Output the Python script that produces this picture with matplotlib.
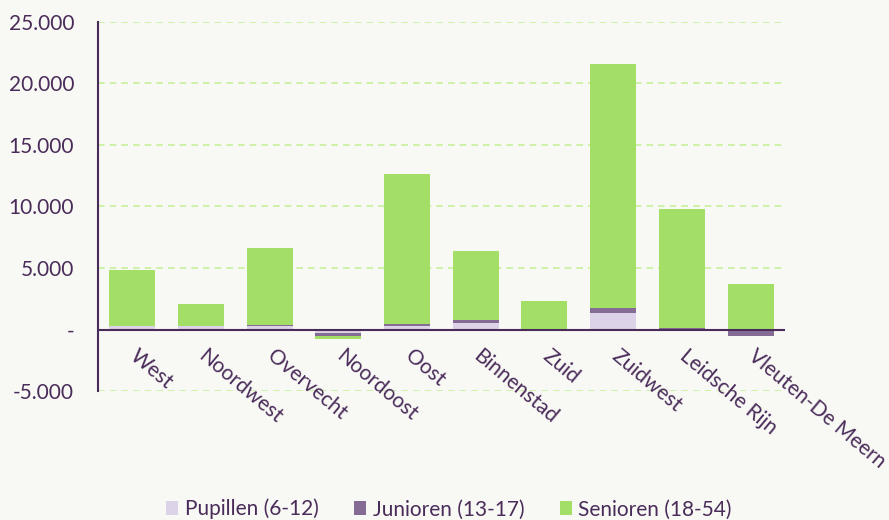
import matplotlib.pyplot as plt
from matplotlib.ticker import FuncFormatter
from matplotlib.transforms import offset_copy
import numpy as np

plt.rcParams['font.family'] = ['Lato', 'DejaVu Sans']

wijken = ["West", "Noordwest", "Overvecht", "Noordoost", "Oost", "Binnenstad",
          "Zuid", "Zuidwest", "Leidsche Rijn", "Vleuten-De Meern"]
pupillen = [300, 300, 250, -300, 300, 550, 0, 1330, 0, -150]
junioren = [0, 0, 80, -200, 150, 250, 0, 380, 100, -400]
senioren = [4500, 1800, 6300, -300, 12200, 5550, 2350, 19900, 9700, 3730]

c_pup = "#dcd3e8"
c_jun = "#846c94"
c_sen = "#a3df66"
txt = "#4a2c5a"
bg = "#f8f8f4"

fig = plt.figure(figsize=(8.89, 5.2), dpi=100, facecolor=bg)
ax = fig.add_axes([0.110, 0.248, 0.773, 0.710])
ax.set_facecolor(bg)

x = np.arange(len(wijken))
w = 0.67

# stack positives up, negatives down
pos_base = np.zeros(len(wijken))
neg_base = np.zeros(len(wijken))
for vals, col, lab in [(pupillen, c_pup, "Pupillen (6-12)"),
                       (junioren, c_jun, "Junioren (13-17)"),
                       (senioren, c_sen, "Senioren (18-54)")]:
    vals = np.array(vals, dtype=float)
    bottom = np.where(vals >= 0, pos_base, neg_base)
    ax.bar(x, vals, w, bottom=bottom, color=col, label=lab, zorder=3)
    pos_base += np.where(vals >= 0, vals, 0)
    neg_base += np.where(vals < 0, vals, 0)

ax.set_xlim(-0.5, 9.5)
ax.set_ylim(-5000, 25000)
ax.set_yticks(np.arange(-5000, 25001, 5000))

def fmt(v, pos):
    if v == 0:
        return "-"
    return f"{int(v):,}".replace(",", ".")

ax.yaxis.set_major_formatter(FuncFormatter(fmt))
ax.yaxis.grid(True, color="#c8f09a", linestyle=(0, (4, 3)), linewidth=1.2, zorder=0)
ax.axhline(0, color=txt, linewidth=1.5, zorder=4)

for s in ["top", "right", "bottom"]:
    ax.spines[s].set_visible(False)
ax.spines["left"].set_color(txt)
ax.spines["left"].set_linewidth(1.5)

ax.tick_params(axis="y", length=0, labelsize=15, labelcolor=txt, pad=17)
ax.set_xticks([])

# category labels hang from the zero line
lbl_tr = offset_copy(ax.transData, fig=fig, x=7, y=-16, units="dots")
for i, name in enumerate(wijken):
    ax.text(i, 0, name, transform=lbl_tr, rotation=-40, ha="left", va="top",
            rotation_mode="anchor", fontsize=15, color=txt, zorder=5, clip_on=False)

fig.legend(loc="lower center", bbox_to_anchor=(0.505, -0.035), ncol=3, frameon=False,
           fontsize=15, labelcolor=txt, handlelength=0.6, handleheight=0.6,
           handletextpad=0.3, columnspacing=1.7)

fig.savefig("out.png", dpi=100, facecolor=bg)
